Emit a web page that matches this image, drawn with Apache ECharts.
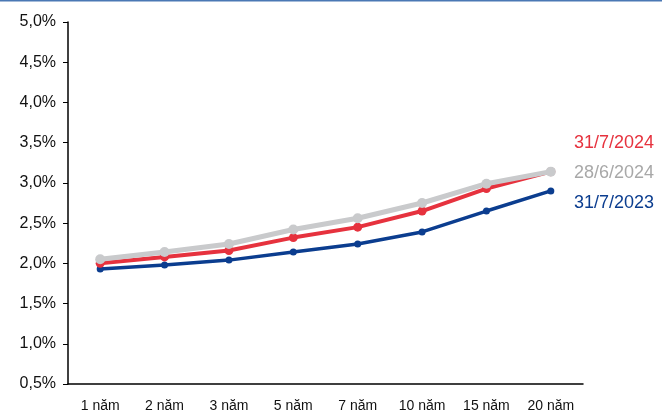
<!DOCTYPE html>
<html>
<head>
<meta charset="utf-8">
<script src="https://cdn.jsdelivr.net/npm/echarts@6/dist/echarts.min.js"></script>
<style>
  html, body { margin: 0; padding: 0; background: #fff; }
  #chart { width: 662px; height: 414px; }
</style>
</head>
<body>
<div id="chart"></div>
<script>
const categories = ['1 năm', '2 năm', '3 năm', '5 năm', '7 năm', '10 năm', '15 năm', '20 năm']
const names = ['31/7/2023', '31/7/2024', '28/6/2024']
const y2023 = [1.93, 1.98, 2.04, 2.14, 2.24, 2.39, 2.65, 2.90]
const jul2024 = [2.00, 2.08, 2.16, 2.32, 2.45, 2.65, 2.93, 3.14]
const jun2024 = [2.05, 2.14, 2.24, 2.42, 2.56, 2.75, 2.99, 3.14]

const colors = { '31/7/2023': '#0b3d8f', '31/7/2024': '#e6323e', '28/6/2024': '#c9cacc' }

const chart = echarts.init(document.getElementById('chart'))
chart.setOption({
  animation: false,
  grid: { left: 68, right: 79, top: 22, bottom: 30 },
  legend: {
    orient: 'vertical',
    right: 3,
    top: 129,
    itemGap: 12,
    itemWidth: 0,
    itemHeight: 0,
    icon: 'none',
    data: [
      { name: '31/7/2024', textStyle: { color: colors['31/7/2024'] } },
      { name: '28/6/2024', textStyle: { color: '#a8a8a8' } },
      { name: '31/7/2023', textStyle: { color: colors['31/7/2023'] } }
    ],
    textStyle: { fontFamily: 'Liberation Sans', fontSize: 18 }
  },
  graphic: [{
    type: 'rect',
    shape: { x: 0, y: 0, width: 662, height: 1.5 },
    style: { fill: '#4a78b4' }
  }],
  xAxis: {
    type: 'category',
    data: categories,
    axisLine: { lineStyle: { color: '#000', width: 1.5 } },
    axisTick: { lineStyle: { color: '#000' }, length: 5 },
    axisLabel: { interval: 0, color: '#111', fontFamily: 'Liberation Sans', fontSize: 14, margin: 15 }
  },
  yAxis: {
    type: 'value',
    min: 0.5,
    max: 5,
    interval: 0.5,
    splitLine: { show: false },
    axisLine: { show: true, lineStyle: { color: '#000', width: 1.5 } },
    axisTick: { show: true, lineStyle: { color: '#000' }, length: 5 },
    axisLabel: {
      color: '#111', fontFamily: 'Liberation Sans', fontSize: 16, margin: 12,
      formatter: v => v.toFixed(1).replace('.', ',') + '%'
    }
  },
  series: [{
    name: '31/7/2023',
    type: 'line',
    data: y2023,
    symbol: 'circle',
    symbolSize: 7,
    color: colors['31/7/2023'],
    lineStyle: { width: 3.5 },
    z: 2
  }, {
    name: '31/7/2024',
    type: 'line',
    data: jul2024,
    symbol: 'circle',
    symbolSize: 9,
    color: colors['31/7/2024'],
    lineStyle: { width: 4 },
    z: 3
  }, {
    name: '28/6/2024',
    type: 'line',
    data: jun2024,
    symbol: 'circle',
    symbolSize: 10,
    color: colors['28/6/2024'],
    lineStyle: { width: 5 },
    z: 4
  }]
})
</script>
</body>
</html>
